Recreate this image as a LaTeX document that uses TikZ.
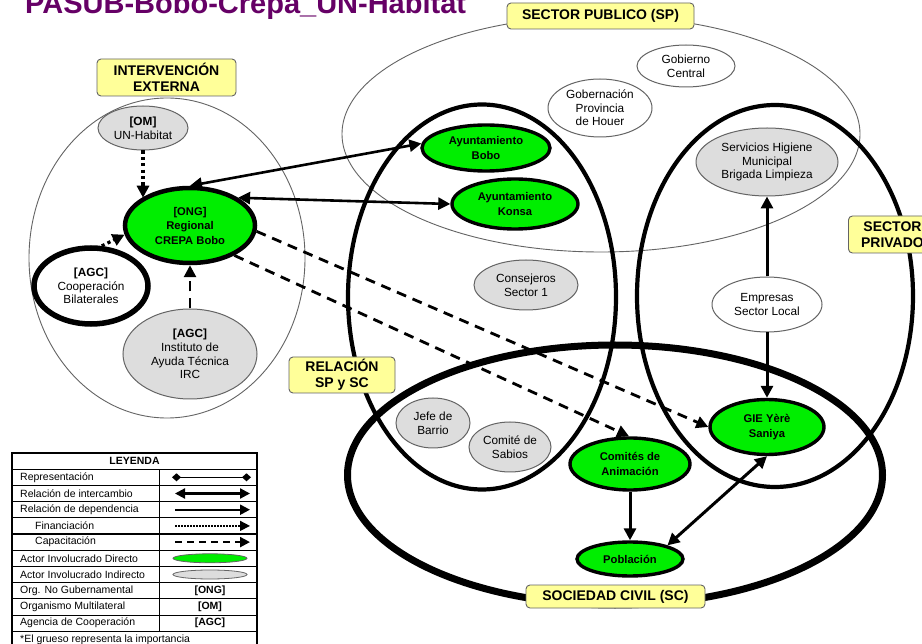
\documentclass[tikz,border=0pt]{standalone}
\usepackage{fontspec}
\setmainfont{Liberation Sans}
\usetikzlibrary{shapes.geometric,arrows.meta}
\definecolor{actgreen}{RGB}{0,238,0}
\definecolor{actgray}{RGB}{221,221,221}
\definecolor{lblyellow}{RGB}{255,255,153}
\definecolor{titlepurple}{RGB}{102,0,102}
\definecolor{thingray}{RGB}{100,100,100}
\begin{document}
\begin{tikzpicture}[x=1pt,y=-1pt,
  region/.style={ellipse,draw=black,fill=none,inner sep=0pt},
  thinregion/.style={ellipse,draw=thingray,line width=0.9pt,fill=none,inner sep=0pt},
  lbl/.style={draw=thingray,line width=0.9pt,fill=lblyellow,rounded corners=4pt,align=center,inner sep=0pt,font=\fontsize{14}{16.5}\selectfont\bfseries},
  actor/.style={ellipse,inner sep=0pt,align=center,font=\fontsize{11.8}{13.6}\selectfont},
  direct/.style={actor,draw=black,line width=3.4pt,fill=actgreen,font=\fontsize{11.2}{14.5}\selectfont\bfseries},
  indirect/.style={actor,draw=thingray,line width=1pt,fill=actgray},
  plain/.style={actor,draw=thingray,line width=1pt,fill=white},
  tip/.style={-{Triangle[length=12pt,width=12pt]}},
  twotip/.style={{Triangle[length=12pt,width=12pt]}-{Triangle[length=12pt,width=12pt]}},
  solidarrow/.style={tip,line width=3pt},
  dotarrow/.style={tip,line width=3.2pt,dash pattern=on 3.2pt off 3.2pt},
  dasharrow/.style={tip,line width=2.8pt,dash pattern=on 10pt off 7pt},
  legtext/.style={anchor=west,inner sep=0pt,font=\fontsize{10.5}{11}\selectfont},
  legbold/.style={inner sep=0pt,font=\fontsize{10.5}{11}\selectfont\bfseries}
]
\useasboundingbox (0,0) rectangle (922,644);
\fill[white] (0,0) rectangle (922,644);

% title
\node[anchor=base west,inner sep=0pt,text=titlepurple,font=\fontsize{29}{30}\selectfont\bfseries] (title) at (25,13.5) {PASUB-Bobo-Crepa\textunderscore UN-Habitat};

% regions
\node[thinregion,minimum width=276pt,minimum height=320pt] (ie) at (167,258) {};
\node[thinregion,minimum width=518pt,minimum height=236pt] (sp) at (601,134) {};
\node[region,line width=4.2pt,minimum width=268pt,minimum height=385pt] (rel) at (482,297) {};
\node[region,line width=4.2pt,minimum width=276pt,minimum height=382pt] (priv) at (775,296) {};
\node[region,line width=7pt,minimum width=535pt,minimum height=260pt] (sc) at (615,475) {};

% region labels
\node[lbl,minimum width=139pt,minimum height=37pt] (lie) at (166.5,77.5) {INTERVENCIÓN\\EXTERNA};
\node[lbl,minimum width=187pt,minimum height=26pt] (lsp) at (600.5,16) {SECTOR PUBLICO (SP)};
\node[lbl,minimum width=106pt,minimum height=36pt] (lrel) at (342,375) {RELACIÓN\\SP y SC};
\node[lbl,minimum width=88pt,minimum height=37pt,anchor=west] (lpriv) at (848,234.5) {SECTOR\\PRIVADO};
\node[lbl,minimum width=179pt,minimum height=23pt] (lsc) at (615.5,596.5) {SOCIEDAD CIVIL (SC)};

% actors
\node[indirect,minimum width=90pt,minimum height=44pt] (un) at (143,128) {\textbf{[OM]}\\UN-Habitat};
\node[direct,line width=4.5pt,minimum width=130pt,minimum height=75pt] (crepa) at (190,225.5) {[ONG]\\Regional\\CREPA Bobo};
\node[plain,draw=black,line width=5.5pt,minimum width=114pt,minimum height=76pt] (coop) at (91,286) {\textbf{[AGC]}\\Cooperación\\Bilaterales};
\node[indirect,minimum width=134pt,minimum height=90pt] (irc) at (190,354) {\textbf{[AGC]}\\Instituto de\\Ayuda Técnica\\IRC};
\node[direct,minimum width=128pt,minimum height=46pt] (bobo) at (486,148) {Ayuntamiento\\Bobo};
\node[direct,minimum width=126pt,minimum height=50pt] (konsa) at (515,204) {Ayuntamiento\\Konsa};
\node[plain,minimum width=104pt,minimum height=58pt] (gob) at (600,108) {Gobernación\\Provincia\\de Houer};
\node[plain,minimum width=98pt,minimum height=42pt] (gcen) at (686,66) {Gobierno\\Central};
\node[indirect,minimum width=104pt,minimum height=50pt] (cons) at (526,285) {Consejeros\\Sector 1};
\node[indirect,minimum width=74pt,minimum height=50pt] (jefe) at (433,423) {Jefe de\\Barrio};
\node[indirect,minimum width=82pt,minimum height=50pt] (sabios) at (510,447) {Comité de\\Sabios};
\node[indirect,minimum width=142pt,minimum height=68pt] (serv) at (767,162) {Servicios Higiene\\Municipal\\Brigada Limpieza};
\node[plain,minimum width=110pt,minimum height=55pt] (emp) at (767,304.5) {Empresas\\Sector Local};
\node[direct,minimum width=114pt,minimum height=55pt] (gie) at (767,427) {GIE Yèrè\\Saniya};
\node[direct,minimum width=120pt,minimum height=52pt] (com) at (630,464) {Comités de\\Animación};
\node[direct,minimum width=106pt,minimum height=34pt] (pob) at (630,559) {Población};

% connectors
\draw[dotarrow] (un.south) -- (un.south |- crepa.150);
\draw[dotarrow] (coop.75) -- (crepa.188);
\draw[dasharrow] (irc.north) -- (crepa.south);
\draw[twotip,line width=2.6pt] (crepa.north) -- (bobo.176);
\draw[twotip,line width=2.6pt] (crepa.30) -- (konsa.west);
\draw[dasharrow] (crepa.-5) -- (gie.west);
\draw[dasharrow] (crepa.-34) -- (com.92);
\draw[solidarrow] (emp.north) -- (serv.south);
\draw[solidarrow] (emp.south) -- (gie.north);
\draw[solidarrow] (com.south) -- (pob.north);
\draw[twotip,line width=3pt] (gie.south) -- (pob.20);

% legend
\begin{scope}
\def\lx{12}\def\rx{257}\def\mx{159}
\draw[line width=0.8pt] (\lx,469.2) -- (\rx,469.2);
\foreach \yy in {485.4,501.6,534,566.4,582.6,631.2}
  \draw[line width=1.4pt] (\lx,\yy) -- (\rx,\yy);
\foreach \yy in {517.8,550.2,598.8,615}
  \draw[line width=0.8pt] (\lx,\yy) -- (\rx,\yy);
\draw[line width=0.9pt] (\mx,469.2) -- (\mx,631.2);
\draw[line width=2pt] (\lx,650) -- (\lx,453) -- (\rx,453) -- (\rx,650);
\node[legbold] (lt) at (134.5,461.1) {LEYENDA};
\node[legtext] (l1) at (20,477.3) {Representación};
\node[legtext] (l2) at (20,493.5) {Relación de intercambio};
\node[legtext] (l3) at (20,509.7) {Relación de dependencia};
\node[legtext] (l4) at (35,525.9) {Financiación};
\node[legtext] (l5) at (35,542.1) {Capacitación};
\node[legtext] (l6) at (20,558.3) {Actor Involucrado Directo};
\node[legtext] (l7) at (20,574.5) {Actor Involucrado Indirecto};
\node[legtext] (l8) at (20,590.7) {Org. No Gubernamental};
\node[legtext] (l9) at (20,606.9) {Organismo Multilateral};
\node[legtext] (l10) at (20,623.1) {Agencia de Cooperación};
\node[legtext] (l11) at (20,639.3) {*El grueso representa la importancia};
\draw[line width=1.4pt,{Diamond[length=9pt,width=8pt]}-{Diamond[length=9pt,width=8pt]}] (172,477.3) -- (251,477.3);
\draw[line width=2.2pt,{Triangle[length=10pt,width=10pt]}-{Triangle[length=10pt,width=10pt]}] (175,493.5) -- (250,493.5);
\draw[line width=2.2pt,-{Triangle[length=10pt,width=10pt]}] (175,509.7) -- (250,509.7);
\draw[line width=1.5pt,dash pattern=on 1.5pt off 1.5pt,-{Triangle[length=10pt,width=10pt]}] (175,525.9) -- (250,525.9);
\draw[line width=2.2pt,dash pattern=on 7pt off 5pt,-{Triangle[length=10pt,width=10pt]}] (175,542.1) -- (250,542.1);
\node[ellipse,draw=thingray,line width=0.8pt,fill=actgreen,minimum width=74pt,minimum height=9pt,inner sep=0pt] (lg) at (210,558.3) {};
\node[ellipse,draw=thingray,line width=0.8pt,fill=actgray,minimum width=74pt,minimum height=9pt,inner sep=0pt] (lgy) at (210,574.5) {};
\node[legbold] (lo1) at (210,590.7) {[ONG]};
\node[legbold] (lo2) at (210,606.9) {[OM]};
\node[legbold] (lo3) at (210,623.1) {[AGC]};
\end{scope}
\end{tikzpicture}
\end{document}
